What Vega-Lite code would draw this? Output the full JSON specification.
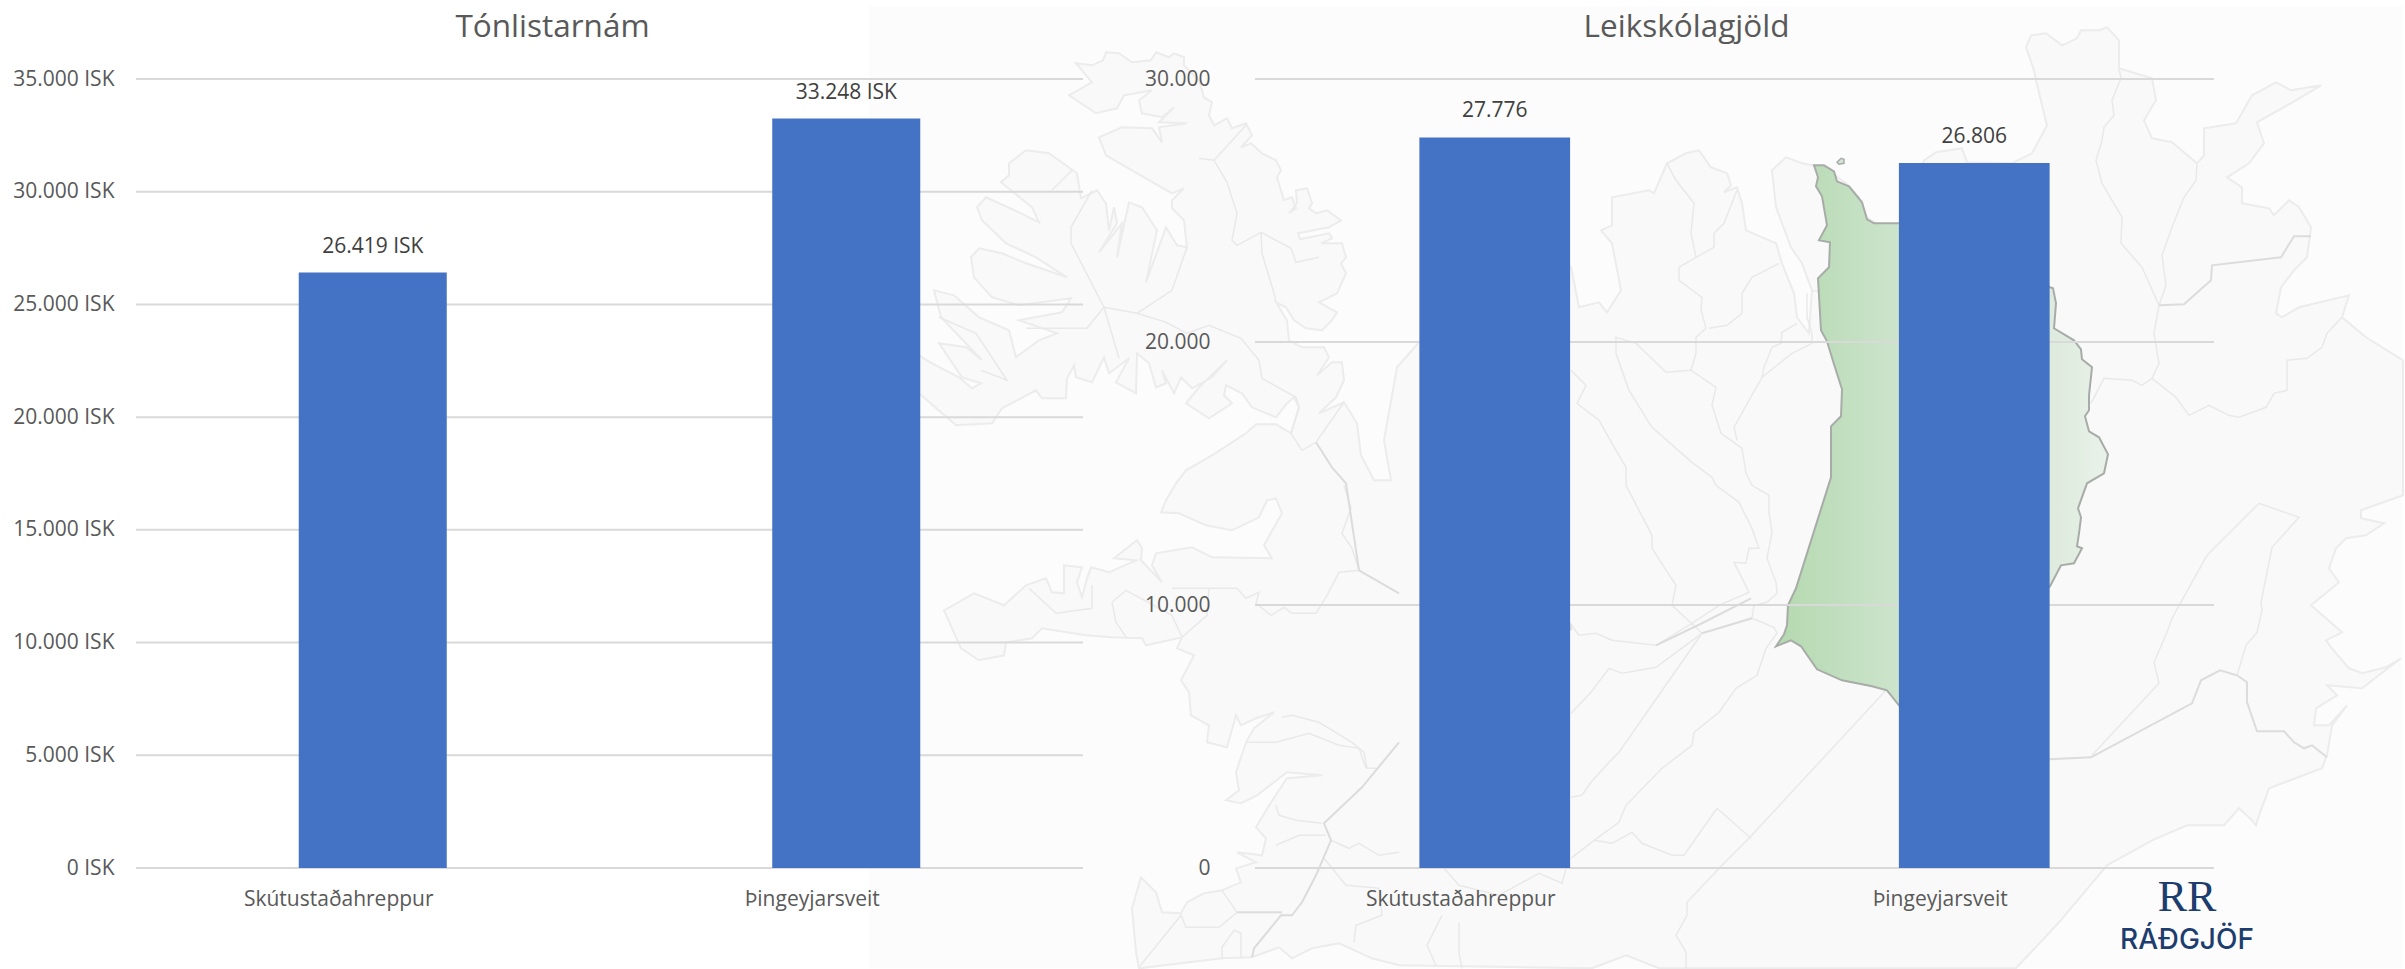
{"$schema":"https://vega.github.io/schema/vega-lite/v6.json","background":"white","padding":{"left":12,"top":6,"right":0,"bottom":0},"spacing":172,"bounds":"flush","config":{"view":{"stroke":null}},
"datasets":{
"schools":[{"place":"Skútustaðahreppur","fee":26419,"label":"26.419 ISK"},{"place":"Þingeyjarsveit","fee":33248,"label":"33.248 ISK"}],
"preschool":[{"place":"Skútustaðahreppur","fee":27776,"label":"27.776"},{"place":"Þingeyjarsveit","fee":26806,"label":"26.806"}],
"ticksA":[{"t":0},{"t":5000},{"t":10000},{"t":15000},{"t":20000},{"t":25000},{"t":30000},{"t":35000}],
"ticksB":[{"t":0},{"t":10000},{"t":20000},{"t":30000}],
"sheet":[{"mx":870,"my":6},{"mx":2404,"my":6},{"mx":2404,"my":968},{"mx":870,"my":968}],
"logo":[{"mx":2188,"my":898,"s":"RR"}],
"logoWord":[{"mx":2188,"my":941,"s":"RÁÐGJÖF"}],
"isle":[{"mx":1838,"my":162},{"mx":1842,"my":158},{"mx":1845,"my":159},{"mx":1845,"my":163},{"mx":1840,"my":164}],
"coast":[{"mx":1077,"my":63},{"mx":1093,"my":65},{"mx":1104,"my":60},{"mx":1107,"my":52},{"mx":1120,"my":53},{"mx":1133,"my":62},{"mx":1152,"my":60},{"mx":1157,"my":52},{"mx":1170,"my":57},{"mx":1175,"my":53},{"mx":1185,"my":57},{"mx":1185,"my":65},{"mx":1200,"my":80},{"mx":1205,"my":97},{"mx":1213,"my":102},{"mx":1210,"my":115},{"mx":1215,"my":125},{"mx":1228,"my":118},{"mx":1233,"my":128},{"mx":1247,"my":123},{"mx":1253,"my":135},{"mx":1242,"my":147},{"mx":1252,"my":143},{"mx":1263,"my":153},{"mx":1277,"my":160},{"mx":1282,"my":170},{"mx":1278,"my":177},{"mx":1285,"my":200},{"mx":1293,"my":197},{"mx":1297,"my":208},{"mx":1290,"my":213},{"mx":1298,"my":203},{"mx":1297,"my":190},{"mx":1308,"my":188},{"mx":1313,"my":203},{"mx":1310,"my":208},{"mx":1317,"my":213},{"mx":1328,"my":210},{"mx":1342,"my":220},{"mx":1330,"my":227},{"mx":1299,"my":233},{"mx":1301,"my":239},{"mx":1330,"my":233},{"mx":1333,"my":238},{"mx":1322,"my":243},{"mx":1343,"my":243},{"mx":1347,"my":257},{"mx":1342,"my":263},{"mx":1347,"my":273},{"mx":1338,"my":293},{"mx":1320,"my":302},{"mx":1338,"my":312},{"mx":1333,"my":320},{"mx":1323,"my":330},{"mx":1307,"my":328},{"mx":1295,"my":320},{"mx":1287,"my":307},{"mx":1277,"my":302},{"mx":1288,"my":320},{"mx":1290,"my":340},{"mx":1303,"my":347},{"mx":1325,"my":347},{"mx":1330,"my":357},{"mx":1318,"my":375},{"mx":1333,"my":362},{"mx":1343,"my":362},{"mx":1345,"my":380},{"mx":1337,"my":397},{"mx":1320,"my":413},{"mx":1345,"my":402},{"mx":1358,"my":423},{"mx":1362,"my":455},{"mx":1375,"my":480},{"mx":1392,"my":480},{"mx":1385,"my":440},{"mx":1398,"my":367},{"mx":1420,"my":342},{"mx":1572,"my":267},{"mx":1580,"my":307},{"mx":1600,"my":302},{"mx":1608,"my":312},{"mx":1622,"my":290},{"mx":1613,"my":243},{"mx":1602,"my":230},{"mx":1613,"my":225},{"mx":1613,"my":197},{"mx":1650,"my":190},{"mx":1655,"my":193},{"mx":1668,"my":163},{"mx":1687,"my":153},{"mx":1700,"my":150},{"mx":1712,"my":167},{"mx":1728,"my":173},{"mx":1732,"my":185},{"mx":1725,"my":192},{"mx":1738,"my":187},{"mx":1743,"my":203},{"mx":1747,"my":230},{"mx":1777,"my":243},{"mx":1783,"my":263},{"mx":1795,"my":293},{"mx":1798,"my":317},{"mx":1810,"my":333},{"mx":1813,"my":290},{"mx":1803,"my":263},{"mx":1792,"my":247},{"mx":1777,"my":207},{"mx":1773,"my":170},{"mx":1787,"my":157},{"mx":1803,"my":163},{"mx":1813,"my":165},{"mx":1833,"my":173},{"mx":1847,"my":183},{"mx":1860,"my":197},{"mx":1868,"my":217},{"mx":1880,"my":225},{"mx":1900,"my":224},{"mx":1925,"my":160},{"mx":1937,"my":152},{"mx":1963,"my":148},{"mx":1968,"my":162},{"mx":2013,"my":163},{"mx":2033,"my":153},{"mx":2048,"my":125},{"mx":2037,"my":80},{"mx":2035,"my":70},{"mx":2027,"my":47},{"mx":2032,"my":35},{"mx":2047,"my":33},{"mx":2063,"my":45},{"mx":2078,"my":38},{"mx":2082,"my":30},{"mx":2100,"my":30},{"mx":2108,"my":27},{"mx":2120,"my":40},{"mx":2120,"my":68},{"mx":2133,"my":72},{"mx":2153,"my":78},{"mx":2157,"my":100},{"mx":2145,"my":120},{"mx":2153,"my":138},{"mx":2173,"my":142},{"mx":2198,"my":163},{"mx":2205,"my":155},{"mx":2205,"my":128},{"mx":2237,"my":123},{"mx":2253,"my":95},{"mx":2277,"my":82},{"mx":2292,"my":90},{"mx":2322,"my":85},{"mx":2297,"my":100},{"mx":2258,"my":122},{"mx":2265,"my":143},{"mx":2250,"my":163},{"mx":2228,"my":177},{"mx":2243,"my":187},{"mx":2243,"my":203},{"mx":2270,"my":208},{"mx":2275,"my":215},{"mx":2290,"my":200},{"mx":2300,"my":207},{"mx":2312,"my":227},{"mx":2308,"my":257},{"mx":2295,"my":270},{"mx":2282,"my":287},{"mx":2277,"my":313},{"mx":2283,"my":317},{"mx":2300,"my":307},{"mx":2350,"my":295},{"mx":2343,"my":317},{"mx":2367,"my":337},{"mx":2404,"my":360},{"mx":2404,"my":495},{"mx":2362,"my":510},{"mx":2362,"my":518},{"mx":2385,"my":523},{"mx":2367,"my":535},{"mx":2347,"my":538},{"mx":2337,"my":548},{"mx":2330,"my":568},{"mx":2340,"my":582},{"mx":2312,"my":605},{"mx":2343,"my":632},{"mx":2327,"my":640},{"mx":2333,"my":648},{"mx":2350,"my":668},{"mx":2363,"my":673},{"mx":2387,"my":667},{"mx":2402,"my":658},{"mx":2363,"my":688},{"mx":2328,"my":685},{"mx":2338,"my":695},{"mx":2317,"my":708},{"mx":2315,"my":725},{"mx":2330,"my":725},{"mx":2348,"my":705},{"mx":2333,"my":725},{"mx":2328,"my":755},{"mx":2323,"my":768},{"mx":2270,"my":788},{"mx":2260,"my":815},{"mx":2257,"my":825},{"mx":2253,"my":820},{"mx":2240,"my":808},{"mx":2225,"my":825},{"mx":2188,"my":825},{"mx":2153,"my":840},{"mx":2108,"my":865},{"mx":2060,"my":922},{"mx":2017,"my":968},{"mx":1660,"my":968},{"mx":1627,"my":955},{"mx":1593,"my":968},{"mx":1400,"my":965},{"mx":1373,"my":958},{"mx":1340,"my":943},{"mx":1313,"my":948},{"mx":1293,"my":958},{"mx":1280,"my":947},{"mx":1253,"my":957},{"mx":1223,"my":958},{"mx":1140,"my":968},{"mx":1137,"my":952},{"mx":1133,"my":908},{"mx":1142,"my":877},{"mx":1157,"my":892},{"mx":1163,"my":912},{"mx":1182,"my":913},{"mx":1188,"my":902},{"mx":1205,"my":893},{"mx":1223,"my":890},{"mx":1242,"my":882},{"mx":1237,"my":868},{"mx":1257,"my":862},{"mx":1238,"my":852},{"mx":1263,"my":855},{"mx":1267,"my":838},{"mx":1257,"my":827},{"mx":1272,"my":802},{"mx":1288,"my":778},{"mx":1323,"my":775},{"mx":1288,"my":772},{"mx":1258,"my":795},{"mx":1242,"my":803},{"mx":1227,"my":800},{"mx":1240,"my":790},{"mx":1237,"my":772},{"mx":1247,"my":742},{"mx":1255,"my":728},{"mx":1275,"my":712},{"mx":1257,"my":718},{"mx":1242,"my":725},{"mx":1237,"my":715},{"mx":1228,"my":747},{"mx":1208,"my":742},{"mx":1210,"my":725},{"mx":1192,"my":715},{"mx":1190,"my":692},{"mx":1182,"my":680},{"mx":1195,"my":655},{"mx":1178,"my":648},{"mx":1183,"my":637},{"mx":1147,"my":645},{"mx":1143,"my":638},{"mx":1113,"my":637},{"mx":1087,"my":635},{"mx":1043,"my":628},{"mx":1033,"my":638},{"mx":1007,"my":642},{"mx":1005,"my":655},{"mx":980,"my":660},{"mx":962,"my":648},{"mx":945,"my":610},{"mx":975,"my":593},{"mx":1005,"my":605},{"mx":1027,"my":585},{"mx":1047,"my":578},{"mx":1053,"my":592},{"mx":1065,"my":593},{"mx":1065,"my":565},{"mx":1083,"my":567},{"mx":1078,"my":582},{"mx":1083,"my":597},{"mx":1088,"my":578},{"mx":1092,"my":567},{"mx":1110,"my":572},{"mx":1137,"my":560},{"mx":1115,"my":558},{"mx":1138,"my":540},{"mx":1143,"my":548},{"mx":1142,"my":560},{"mx":1163,"my":582},{"mx":1153,"my":565},{"mx":1157,"my":553},{"mx":1193,"my":547},{"mx":1213,"my":557},{"mx":1273,"my":558},{"mx":1265,"my":545},{"mx":1283,"my":513},{"mx":1277,"my":498},{"mx":1268,"my":500},{"mx":1260,"my":517},{"mx":1233,"my":530},{"mx":1207,"my":525},{"mx":1180,"my":513},{"mx":1162,"my":512},{"mx":1167,"my":500},{"mx":1177,"my":483},{"mx":1187,"my":470},{"mx":1213,"my":455},{"mx":1247,"my":433},{"mx":1257,"my":424},{"mx":1277,"my":424},{"mx":1292,"my":433},{"mx":1300,"my":407},{"mx":1295,"my":397},{"mx":1288,"my":403},{"mx":1277,"my":417},{"mx":1253,"my":407},{"mx":1243,"my":393},{"mx":1227,"my":385},{"mx":1225,"my":395},{"mx":1233,"my":403},{"mx":1210,"my":418},{"mx":1187,"my":403},{"mx":1200,"my":387},{"mx":1228,"my":360},{"mx":1213,"my":377},{"mx":1193,"my":388},{"mx":1182,"my":377},{"mx":1175,"my":393},{"mx":1163,"my":370},{"mx":1167,"my":383},{"mx":1157,"my":387},{"mx":1150,"my":363},{"mx":1138,"my":353},{"mx":1137,"my":393},{"mx":1117,"my":382},{"mx":1130,"my":358},{"mx":1110,"my":373},{"mx":1105,"my":357},{"mx":1093,"my":382},{"mx":1077,"my":377},{"mx":1075,"my":365},{"mx":1068,"my":378},{"mx":1067,"my":398},{"mx":1043,"my":398},{"mx":1037,"my":390},{"mx":1003,"my":408},{"mx":993,"my":423},{"mx":957,"my":425},{"mx":920,"my":393},{"mx":920,"my":355},{"mx":933,"my":363},{"mx":960,"my":377},{"mx":973,"my":388},{"mx":982,"my":383},{"mx":963,"my":377},{"mx":940,"my":343},{"mx":967,"my":347},{"mx":983,"my":360},{"mx":942,"my":317},{"mx":935,"my":290},{"mx":955,"my":295},{"mx":980,"my":317},{"mx":1010,"my":330},{"mx":1017,"my":357},{"mx":1040,"my":340},{"mx":1058,"my":333},{"mx":1020,"my":320},{"mx":1063,"my":312},{"mx":1072,"my":298},{"mx":1020,"my":305},{"mx":993,"my":297},{"mx":975,"my":277},{"mx":972,"my":257},{"mx":980,"my":248},{"mx":1003,"my":253},{"mx":1027,"my":263},{"mx":1068,"my":277},{"mx":1037,"my":257},{"mx":1007,"my":243},{"mx":983,"my":220},{"mx":978,"my":207},{"mx":987,"my":197},{"mx":1020,"my":212},{"mx":1040,"my":222},{"mx":1033,"my":207},{"mx":1002,"my":182},{"mx":1010,"my":175},{"mx":1010,"my":163},{"mx":1027,"my":150},{"mx":1050,"my":153},{"mx":1078,"my":173},{"mx":1082,"my":198},{"mx":1098,"my":190},{"mx":1107,"my":203},{"mx":1110,"my":230},{"mx":1115,"my":207},{"mx":1118,"my":223},{"mx":1100,"my":252},{"mx":1123,"my":223},{"mx":1118,"my":257},{"mx":1130,"my":202},{"mx":1143,"my":207},{"mx":1158,"my":230},{"mx":1147,"my":282},{"mx":1167,"my":227},{"mx":1178,"my":245},{"mx":1188,"my":247},{"mx":1185,"my":220},{"mx":1173,"my":208},{"mx":1173,"my":200},{"mx":1185,"my":188},{"mx":1173,"my":193},{"mx":1133,"my":170},{"mx":1107,"my":155},{"mx":1100,"my":137},{"mx":1123,"my":127},{"mx":1153,"my":128},{"mx":1163,"my":142},{"mx":1160,"my":127},{"mx":1188,"my":123},{"mx":1160,"my":122},{"mx":1175,"my":107},{"mx":1163,"my":117},{"mx":1143,"my":113},{"mx":1140,"my":100},{"mx":1153,"my":90},{"mx":1125,"my":95},{"mx":1118,"my":108},{"mx":1097,"my":113},{"mx":1070,"my":95},{"mx":1093,"my":82}],
"green":[{"mx":1815,"my":165},{"mx":1825,"my":165},{"mx":1835,"my":171},{"mx":1838,"my":181},{"mx":1850,"my":186},{"mx":1863,"my":202},{"mx":1868,"my":219},{"mx":1875,"my":223},{"mx":1900,"my":223},{"mx":2051,"my":287},{"mx":2054,"my":288},{"mx":2057,"my":303},{"mx":2055,"my":328},{"mx":2075,"my":340},{"mx":2082,"my":349},{"mx":2083,"my":359},{"mx":2093,"my":367},{"mx":2090,"my":395},{"mx":2090,"my":410},{"mx":2086,"my":416},{"mx":2090,"my":431},{"mx":2100,"my":437},{"mx":2109,"my":454},{"mx":2105,"my":473},{"mx":2088,"my":483},{"mx":2079,"my":508},{"mx":2082,"my":517},{"mx":2080,"my":533},{"mx":2078,"my":546},{"mx":2083,"my":548},{"mx":2075,"my":563},{"mx":2062,"my":565},{"mx":2051,"my":586},{"mx":1900,"my":705},{"mx":1888,"my":690},{"mx":1873,"my":686},{"mx":1843,"my":680},{"mx":1818,"my":669},{"mx":1802,"my":646},{"mx":1792,"my":640},{"mx":1777,"my":646},{"mx":1785,"my":634},{"mx":1788,"my":625},{"mx":1789,"my":605},{"mx":1797,"my":588},{"mx":1832,"my":477},{"mx":1832,"my":426},{"mx":1842,"my":416},{"mx":1843,"my":389},{"mx":1835,"my":364},{"mx":1828,"my":341},{"mx":1822,"my":330},{"mx":1819,"my":278},{"mx":1830,"my":267},{"mx":1831,"my":242},{"mx":1820,"my":240},{"mx":1828,"my":225},{"mx":1823,"my":196},{"mx":1817,"my":186},{"mx":1819,"my":177}],
"borders":[
{"g":"a1","mx":1200,"my":158},{"g":"a1","mx":1215,"my":160},{"g":"a1","mx":1228,"my":182},{"g":"a1","mx":1238,"my":213},{"g":"a1","mx":1233,"my":240},{"g":"a1","mx":1238,"my":245},{"g":"a1","mx":1262,"my":232},{"g":"a1","mx":1292,"my":248},{"g":"a1","mx":1297,"my":262},{"g":"a1","mx":1320,"my":257},
{"g":"a2","mx":1215,"my":160},{"g":"a2","mx":1247,"my":125},
{"g":"a3","mx":1262,"my":232},{"g":"a3","mx":1263,"my":253},{"g":"a3","mx":1275,"my":293},{"g":"a3","mx":1277,"my":302},
{"g":"a4","mx":1093,"my":190},{"g":"a4","mx":1072,"my":227},{"g":"a4","mx":1072,"my":243},{"g":"a4","mx":1105,"my":307},{"g":"a4","mx":1120,"my":358},
{"g":"a5","mx":1105,"my":307},{"g":"a5","mx":1138,"my":313},{"g":"a5","mx":1167,"my":322},{"g":"a5","mx":1188,"my":333},{"g":"a5","mx":1210,"my":325},{"g":"a5","mx":1242,"my":338},{"g":"a5","mx":1260,"my":360},{"g":"a5","mx":1263,"my":378},{"g":"a5","mx":1297,"my":397},{"g":"a5","mx":1300,"my":407},{"g":"a5","mx":1292,"my":433},{"g":"a5","mx":1303,"my":450},{"g":"a5","mx":1317,"my":442},{"g":"a5","mx":1345,"my":402},
{"g":"a6","mx":1138,"my":313},{"g":"a6","mx":1173,"my":290},{"g":"a6","mx":1188,"my":247},
{"g":"a7","mx":1105,"my":307},{"g":"a7","mx":1088,"my":328},{"g":"a7","mx":1027,"my":328},
{"g":"a8","mx":1053,"my":190},{"g":"a8","mx":1073,"my":170},
{"g":"a9","mx":940,"my":317},{"g":"a9","mx":977,"my":333},{"g":"a9","mx":1008,"my":380},{"g":"a9","mx":982,"my":370},
{"g":"b1","mx":1668,"my":163},{"g":"b1","mx":1677,"my":180},{"g":"b1","mx":1695,"my":203},{"g":"b1","mx":1692,"my":233},{"g":"b1","mx":1697,"my":257},{"g":"b1","mx":1680,"my":267},{"g":"b1","mx":1680,"my":280},{"g":"b1","mx":1703,"my":297},{"g":"b1","mx":1702,"my":310},{"g":"b1","mx":1707,"my":328},{"g":"b1","mx":1697,"my":337},{"g":"b1","mx":1697,"my":353},{"g":"b1","mx":1692,"my":370},{"g":"b1","mx":1717,"my":387},{"g":"b1","mx":1713,"my":405},{"g":"b1","mx":1722,"my":433},{"g":"b1","mx":1743,"my":448},{"g":"b1","mx":1747,"my":473},{"g":"b1","mx":1753,"my":485},{"g":"b1","mx":1770,"my":495},{"g":"b1","mx":1770,"my":512},{"g":"b1","mx":1773,"my":532},{"g":"b1","mx":1768,"my":558},{"g":"b1","mx":1777,"my":582},{"g":"b1","mx":1778,"my":593},{"g":"b1","mx":1768,"my":602},{"g":"b1","mx":1755,"my":605},{"g":"b1","mx":1753,"my":618},{"g":"b1","mx":1775,"my":627},{"g":"b1","mx":1778,"my":633},{"g":"b1","mx":1767,"my":648},{"g":"b1","mx":1758,"my":675},{"g":"b1","mx":1737,"my":688},{"g":"b1","mx":1720,"my":712},{"g":"b1","mx":1695,"my":732},{"g":"b1","mx":1693,"my":745},{"g":"b1","mx":1663,"my":768},{"g":"b1","mx":1627,"my":805},{"g":"b1","mx":1620,"my":822},{"g":"b1","mx":1595,"my":840},{"g":"b1","mx":1572,"my":858},
{"g":"b2","mx":1738,"my":190},{"g":"b2","mx":1725,"my":223},{"g":"b2","mx":1715,"my":233},{"g":"b2","mx":1715,"my":247},{"g":"b2","mx":1697,"my":257},
{"g":"b3","mx":1780,"my":263},{"g":"b3","mx":1753,"my":277},{"g":"b3","mx":1743,"my":293},{"g":"b3","mx":1743,"my":313},{"g":"b3","mx":1728,"my":325},{"g":"b3","mx":1710,"my":328},
{"g":"b4","mx":1798,"my":323},{"g":"b4","mx":1783,"my":332},{"g":"b4","mx":1782,"my":343},{"g":"b4","mx":1773,"my":347},{"g":"b4","mx":1765,"my":367},{"g":"b4","mx":1763,"my":377},{"g":"b4","mx":1750,"my":400},{"g":"b4","mx":1735,"my":427},{"g":"b4","mx":1738,"my":440},
{"g":"b5","mx":1692,"my":370},{"g":"b5","mx":1667,"my":372},{"g":"b5","mx":1637,"my":343},{"g":"b5","mx":1617,"my":337},{"g":"b5","mx":1617,"my":353},{"g":"b5","mx":1630,"my":390},{"g":"b5","mx":1653,"my":427},{"g":"b5","mx":1693,"my":462},{"g":"b5","mx":1713,"my":477},{"g":"b5","mx":1717,"my":485},{"g":"b5","mx":1740,"my":502},{"g":"b5","mx":1753,"my":528},{"g":"b5","mx":1760,"my":548},{"g":"b5","mx":1750,"my":548},{"g":"b5","mx":1747,"my":563},{"g":"b5","mx":1735,"my":562},{"g":"b5","mx":1750,"my":592},{"g":"b5","mx":1720,"my":605},{"g":"b5","mx":1693,"my":623},{"g":"b5","mx":1657,"my":645},{"g":"b5","mx":1613,"my":640},{"g":"b5","mx":1597,"my":633},{"g":"b5","mx":1580,"my":635},{"g":"b5","mx":1571,"my":623},
{"g":"b6","mx":1813,"my":343},{"g":"b6","mx":1793,"my":353},{"g":"b6","mx":1763,"my":377},
{"g":"b7","mx":1808,"my":293},{"g":"b7","mx":1808,"my":317},{"g":"b7","mx":1813,"my":333},{"g":"b7","mx":1813,"my":343},
{"g":"b8","mx":1813,"my":290},{"g":"b8","mx":1822,"my":292},
{"g":"b9","mx":1572,"my":370},{"g":"b9","mx":1587,"my":385},{"g":"b9","mx":1578,"my":403},{"g":"b9","mx":1600,"my":420},{"g":"b9","mx":1613,"my":443},{"g":"b9","mx":1627,"my":467},{"g":"b9","mx":1627,"my":485},{"g":"b9","mx":1653,"my":535},{"g":"b9","mx":1653,"my":548},{"g":"b9","mx":1677,"my":585},{"g":"b9","mx":1673,"my":605},{"g":"b9","mx":1703,"my":633},
{"g":"c1","mx":1753,"my":618},{"g":"c1","mx":1703,"my":633},{"g":"c1","mx":1657,"my":667},{"g":"c1","mx":1623,"my":673},{"g":"c1","mx":1610,"my":668},{"g":"c1","mx":1592,"my":692},{"g":"c1","mx":1572,"my":713},
{"g":"c2","mx":1703,"my":633},{"g":"c2","mx":1620,"my":752},{"g":"c2","mx":1610,"my":762},{"g":"c2","mx":1592,"my":782},{"g":"c2","mx":1583,"my":795},{"g":"c2","mx":1572,"my":797},
{"g":"c3","mx":1752,"my":598},{"g":"c3","mx":1657,"my":645},
{"g":"c4","mx":1887,"my":690},{"g":"c4","mx":1750,"my":838},{"g":"c4","mx":1723,"my":865},{"g":"c4","mx":1688,"my":902},{"g":"c4","mx":1688,"my":915},{"g":"c4","mx":1677,"my":935},{"g":"c4","mx":1687,"my":952},{"g":"c4","mx":1687,"my":968},
{"g":"c5","mx":1595,"my":840},{"g":"c5","mx":1613,"my":843},{"g":"c5","mx":1633,"my":832},{"g":"c5","mx":1643,"my":843},{"g":"c5","mx":1673,"my":855},{"g":"c5","mx":1685,"my":855},{"g":"c5","mx":1718,"my":808},{"g":"c5","mx":1752,"my":838},
{"g":"c6","mx":1567,"my":868},{"g":"c6","mx":1563,"my":883},{"g":"c6","mx":1540,"my":873},{"g":"c6","mx":1500,"my":895},{"g":"c6","mx":1460,"my":885},{"g":"c6","mx":1445,"my":868},
{"g":"c7","mx":1443,"my":915},{"g":"c7","mx":1428,"my":945},{"g":"c7","mx":1437,"my":965},
{"g":"c8","mx":1460,"my":922},{"g":"c8","mx":1460,"my":952},{"g":"c8","mx":1463,"my":968},
{"g":"d1","mx":2093,"my":755},{"g":"d1","mx":2160,"my":683},{"g":"d1","mx":2155,"my":662},{"g":"d1","mx":2168,"my":632},{"g":"d1","mx":2173,"my":618},{"g":"d1","mx":2208,"my":555},{"g":"d1","mx":2260,"my":503},{"g":"d1","mx":2300,"my":517},{"g":"d1","mx":2273,"my":547},{"g":"d1","mx":2262,"my":602},{"g":"d1","mx":2263,"my":610},{"g":"d1","mx":2258,"my":632},{"g":"d1","mx":2247,"my":645},{"g":"d1","mx":2238,"my":675},
{"g":"e1","mx":2120,"my":68},{"g":"e1","mx":2122,"my":78},{"g":"e1","mx":2113,"my":100},{"g":"e1","mx":2115,"my":115},{"g":"e1","mx":2105,"my":127},{"g":"e1","mx":2103,"my":140},{"g":"e1","mx":2097,"my":160},{"g":"e1","mx":2103,"my":183},{"g":"e1","mx":2123,"my":217},{"g":"e1","mx":2122,"my":243},{"g":"e1","mx":2143,"my":267},{"g":"e1","mx":2160,"my":305},{"g":"e1","mx":2155,"my":333},{"g":"e1","mx":2160,"my":363},{"g":"e1","mx":2153,"my":378},{"g":"e1","mx":2143,"my":385},{"g":"e1","mx":2133,"my":380},{"g":"e1","mx":2105,"my":378},{"g":"e1","mx":2092,"my":403},
{"g":"e2","mx":2198,"my":163},{"g":"e2","mx":2197,"my":180},{"g":"e2","mx":2185,"my":197},{"g":"e2","mx":2173,"my":227},{"g":"e2","mx":2163,"my":255},{"g":"e2","mx":2167,"my":285},{"g":"e2","mx":2160,"my":305},
{"g":"e4","mx":2153,"my":378},{"g":"e4","mx":2177,"my":397},{"g":"e4","mx":2190,"my":415},{"g":"e4","mx":2210,"my":405},{"g":"e4","mx":2230,"my":415},{"g":"e4","mx":2240,"my":417},{"g":"e4","mx":2267,"my":407},{"g":"e4","mx":2275,"my":393},{"g":"e4","mx":2288,"my":390},{"g":"e4","mx":2288,"my":360},{"g":"e4","mx":2308,"my":358},{"g":"e4","mx":2323,"my":347},{"g":"e4","mx":2328,"my":333},{"g":"e4","mx":2343,"my":317},
{"g":"f1","mx":1345,"my":485},{"g":"f1","mx":1352,"my":508},{"g":"f1","mx":1343,"my":533},{"g":"f1","mx":1353,"my":548},{"g":"f1","mx":1360,"my":570},{"g":"f1","mx":1340,"my":572},{"g":"f1","mx":1328,"my":595},{"g":"f1","mx":1317,"my":613},{"g":"f1","mx":1293,"my":613},{"g":"f1","mx":1285,"my":607},{"g":"f1","mx":1272,"my":615},{"g":"f1","mx":1257,"my":603},{"g":"f1","mx":1260,"my":592},{"g":"f1","mx":1247,"my":598},{"g":"f1","mx":1238,"my":588},{"g":"f1","mx":1173,"my":588},
{"g":"f2","mx":1210,"my":588},{"g":"f2","mx":1208,"my":615},{"g":"f2","mx":1183,"my":637},
{"g":"f3","mx":1113,"my":602},{"g":"f3","mx":1127,"my":590},{"g":"f3","mx":1173,"my":615},{"g":"f3","mx":1183,"my":637},
{"g":"f4","mx":1113,"my":602},{"g":"f4","mx":1117,"my":622},{"g":"f4","mx":1128,"my":638},
{"g":"f5","mx":1093,"my":585},{"g":"f5","mx":1093,"my":608},{"g":"f5","mx":1057,"my":613},{"g":"f5","mx":1030,"my":588},
{"g":"f6","mx":1247,"my":742},{"g":"f6","mx":1277,"my":742},{"g":"f6","mx":1310,"my":733},{"g":"f6","mx":1340,"my":745},{"g":"f6","mx":1360,"my":748},{"g":"f6","mx":1367,"my":768},
{"g":"f7","mx":1283,"my":717},{"g":"f7","mx":1293,"my":715},{"g":"f7","mx":1320,"my":722},{"g":"f7","mx":1353,"my":742},{"g":"f7","mx":1365,"my":752},{"g":"f7","mx":1368,"my":768},{"g":"f7","mx":1377,"my":768},
{"g":"f8","mx":1277,"my":805},{"g":"f8","mx":1280,"my":815},{"g":"f8","mx":1297,"my":820},{"g":"f8","mx":1323,"my":823},
{"g":"f9","mx":1277,"my":845},{"g":"f9","mx":1300,"my":835},{"g":"f9","mx":1327,"my":835},
{"g":"h1","mx":1325,"my":858},{"g":"h1","mx":1347,"my":885},{"g":"h1","mx":1380,"my":888},{"g":"h1","mx":1383,"my":915},{"g":"h1","mx":1357,"my":925},{"g":"h1","mx":1355,"my":942},
{"g":"h2","mx":1332,"my":840},{"g":"h2","mx":1350,"my":848},{"g":"h2","mx":1360,"my":843},{"g":"h2","mx":1380,"my":855},{"g":"h2","mx":1400,"my":852},
{"g":"h3","mx":1223,"my":890},{"g":"h3","mx":1238,"my":912},{"g":"h3","mx":1220,"my":927},{"g":"h3","mx":1187,"my":927},{"g":"h3","mx":1182,"my":915},{"g":"h3","mx":1140,"my":967},
{"g":"h4","mx":1223,"my":958},{"g":"h4","mx":1223,"my":947},{"g":"h4","mx":1235,"my":930},{"g":"h4","mx":1242,"my":933},{"g":"h4","mx":1242,"my":958}],
"bordersDark":[
{"g":"k1","mx":1400,"my":742},{"g":"k1","mx":1363,"my":787},{"g":"k1","mx":1325,"my":823},{"g":"k1","mx":1332,"my":840},{"g":"k1","mx":1317,"my":875},{"g":"k1","mx":1303,"my":902},{"g":"k1","mx":1293,"my":915},{"g":"k1","mx":1282,"my":915},{"g":"k1","mx":1255,"my":948},{"g":"k1","mx":1253,"my":957},
{"g":"k2","mx":1238,"my":912},{"g":"k2","mx":1283,"my":912},
{"g":"k3","mx":1317,"my":442},{"g":"k3","mx":1333,"my":467},{"g":"k3","mx":1347,"my":483},{"g":"k3","mx":1360,"my":570},{"g":"k3","mx":1400,"my":593},
{"g":"k4","mx":2050,"my":759},{"g":"k4","mx":2092,"my":757},{"g":"k4","mx":2193,"my":703},{"g":"k4","mx":2202,"my":680},{"g":"k4","mx":2221,"my":670},{"g":"k4","mx":2238,"my":675},{"g":"k4","mx":2248,"my":682},{"g":"k4","mx":2248,"my":702},{"g":"k4","mx":2258,"my":731},{"g":"k4","mx":2285,"my":731},{"g":"k4","mx":2295,"my":742},{"g":"k4","mx":2305,"my":748},{"g":"k4","mx":2313,"my":745},{"g":"k4","mx":2328,"my":757},
{"g":"k5","mx":2160,"my":305},{"g":"k5","mx":2185,"my":304},{"g":"k5","mx":2212,"my":280},{"g":"k5","mx":2213,"my":265},{"g":"k5","mx":2282,"my":257},{"g":"k5","mx":2295,"my":236},{"g":"k5","mx":2312,"my":236},
{"g":"k6","mx":1571,"my":623},{"g":"k6","mx":1572,"my":630},
{"g":"k7","mx":1753,"my":618},{"g":"k7","mx":1703,"my":633},
{"g":"k8","mx":1657,"my":645},{"g":"k8","mx":1703,"my":623},{"g":"k8","mx":1752,"my":598}]
},
"hconcat":[
{"title":{"text":"Tónlistarnám","font":"Open Sans","fontSize":31.5,"fontWeight":"normal","color":"#595959","anchor":"middle","dx":-57,"offset":-37},"width":947,"height":789,
"layer":[
{"layer":[
{"data":{"name":"sheet"},"mark":{"type":"line","interpolate":"linear-closed","fill":"#fcfcfc","stroke":null},"encoding":{"x":{"field":"mx","type":"quantitative","axis":null,"scale":{"domain":[137,1084],"nice":false,"zero":false}},"y":{"field":"my","type":"quantitative","axis":null,"scale":{"domain":[78.7,867.7],"reverse":true,"nice":false,"zero":false}},"order":{"value":null}}},
{"data":{"name":"coast"},"mark":{"type":"line","interpolate":"linear-closed","fill":"#f9f9f9","stroke":"#ececec","strokeWidth":2},"encoding":{"x":{"field":"mx","type":"quantitative"},"y":{"field":"my","type":"quantitative"},"order":{"value":null}}},
{"data":{"name":"borders"},"mark":{"type":"line","stroke":"#e9e9e9","strokeWidth":1.5},"encoding":{"x":{"field":"mx","type":"quantitative"},"y":{"field":"my","type":"quantitative"},"detail":{"field":"g"},"order":{"value":null}}},
{"data":{"name":"bordersDark"},"mark":{"type":"line","stroke":"#dcdcdc","strokeWidth":2},"encoding":{"x":{"field":"mx","type":"quantitative"},"y":{"field":"my","type":"quantitative"},"detail":{"field":"g"},"order":{"value":null}}},
{"data":{"name":"green"},"mark":{"type":"line","interpolate":"linear-closed","stroke":"#a8aca8","strokeWidth":2,"fill":{"gradient":"linear","x1":0,"y1":0,"x2":1,"y2":0,"stops":[{"offset":0,"color":"#b4d9af"},{"offset":0.38,"color":"#cde4cd"},{"offset":0.85,"color":"#dfebdf"},{"offset":1,"color":"#e9f2e9"}]}},"encoding":{"x":{"field":"mx","type":"quantitative"},"y":{"field":"my","type":"quantitative"},"order":{"value":null}}},
{"data":{"name":"isle"},"mark":{"type":"line","interpolate":"linear-closed","stroke":"#a8aca8","strokeWidth":1.5,"fill":"#d5e5d5"},"encoding":{"x":{"field":"mx","type":"quantitative"},"y":{"field":"my","type":"quantitative"},"order":{"value":null}}},
{"data":{"name":"logo"},"mark":{"type":"text","font":"Liberation Serif","fontSize":44,"color":"#1c3d6e","align":"center","baseline":"middle"},"encoding":{"x":{"field":"mx","type":"quantitative"},"y":{"field":"my","type":"quantitative"},"text":{"field":"s"}}},
{"data":{"name":"logoWord"},"mark":{"type":"text","font":"Inter","fontWeight":500,"fontSize":28,"color":"#1c3d6e","align":"center","baseline":"middle"},"encoding":{"x":{"field":"mx","type":"quantitative"},"y":{"field":"my","type":"quantitative"},"text":{"field":"s"}}}
]},
{"layer":[
{"data":{"name":"ticksA"},"mark":{"type":"rule","color":"#d9d9d9","strokeWidth":2},"encoding":{"y":{"field":"t","type":"quantitative","scale":{"domain":[0,35000],"nice":false},"axis":{"orient":"left","zindex":1,"values":[0,5000,10000,15000,20000,25000,30000,35000],"grid":false,"domain":false,"ticks":false,"title":null,"labelFont":"Open Sans","labelFontSize":21,"labelColor":"#595959","labelPadding":22,"labelLimit":400,"labelExpr":"replace(format(datum.value, ','), ',', '.') + ' ISK'"}}}},
{"data":{"name":"schools"},"mark":{"type":"bar","color":"#4472C4"},"encoding":{"x":{"field":"place","type":"nominal","sort":null,"scale":{"paddingInner":0.6874,"paddingOuter":0.3437},"axis":{"orient":"bottom","zindex":1,"title":null,"domain":false,"ticks":false,"grid":false,"labelAngle":0,"labelFont":"Open Sans","labelFontSize":21,"labelColor":"#595959","labelPadding":20,"labelLimit":400,"labelOffset":-34}},"y":{"field":"fee","type":"quantitative"}}},
{"data":{"name":"schools"},"mark":{"type":"text","font":"Open Sans","fontSize":21,"color":"#404040","baseline":"middle","dy":-25},"encoding":{"x":{"field":"place","type":"nominal","sort":null},"y":{"field":"fee","type":"quantitative"},"text":{"field":"label"}}}
]}
],"resolve":{"scale":{"x":"independent","y":"independent"}}},
{"title":{"text":"Leikskólagjöld","font":"Open Sans","fontSize":31.5,"fontWeight":"normal","color":"#595959","anchor":"middle","dx":-48,"offset":25},"width":959,"height":789,
"layer":[
{"data":{"name":"ticksB"},"mark":{"type":"rule","color":"#d9d9d9","strokeWidth":2},"encoding":{"y":{"field":"t","type":"quantitative","scale":{"domain":[0,30000],"nice":false},"axis":{"values":[0,10000,20000,30000],"grid":false,"domain":false,"ticks":false,"title":null,"labelFont":"Open Sans","labelFontSize":21,"labelColor":"#595959","labelPadding":45,"labelExpr":"replace(format(datum.value, ','), ',', '.')"}}}},
{"data":{"name":"preschool"},"mark":{"type":"bar","color":"#4472C4"},"encoding":{"x":{"field":"place","type":"nominal","sort":null,"scale":{"paddingInner":0.6857,"paddingOuter":0.3428},"axis":{"title":null,"domain":false,"ticks":false,"grid":false,"labelAngle":0,"labelFont":"Open Sans","labelFontSize":21,"labelColor":"#595959","labelPadding":20,"labelLimit":400,"labelOffset":-34}},"y":{"field":"fee","type":"quantitative"}}},
{"data":{"name":"preschool"},"mark":{"type":"text","font":"Open Sans","fontSize":21,"color":"#404040","baseline":"middle","dy":-26},"encoding":{"x":{"field":"place","type":"nominal","sort":null},"y":{"field":"fee","type":"quantitative"},"text":{"field":"label"}}}
]}
]}
